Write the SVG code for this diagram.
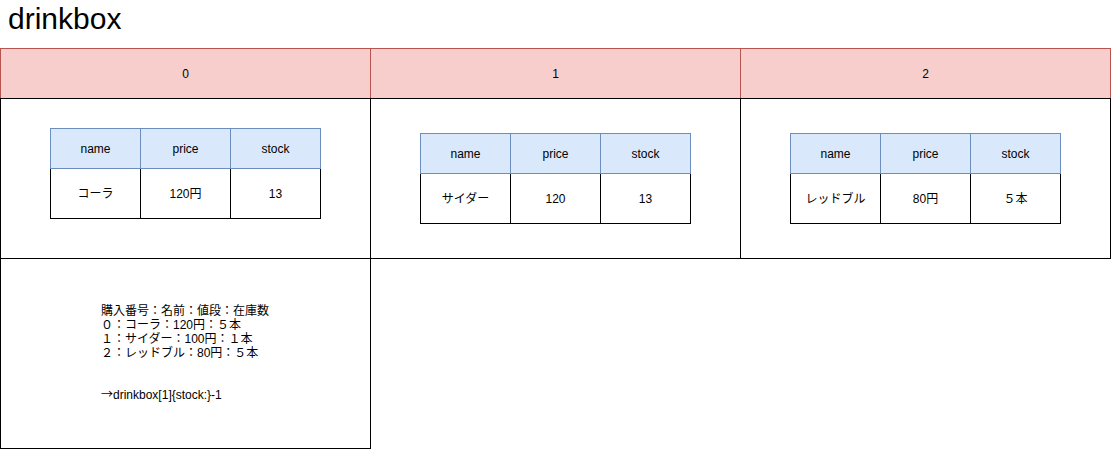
<svg xmlns="http://www.w3.org/2000/svg" width="1111" height="449" viewBox="0 0 1111 449">
<style>
text{font-family:"Liberation Sans","Noto Sans CJK JP",sans-serif;font-size:12px;fill:#000}
.c{text-anchor:middle;dominant-baseline:central}
.hd{fill:#f8cecc;stroke:#b85450;stroke-width:1}
.bx{fill:#fff;stroke:#000;stroke-width:1}
.th{fill:#dae8fc;stroke:#6c8ebf;stroke-width:1}
.td{fill:#fff;stroke:#000;stroke-width:1}
</style>
<rect width="1111" height="449" fill="#fff"/>
<text id="title" x="8" y="29" style="font-size:30px">drinkbox</text>
<g id="col0">
<rect class="hd" x="0.5" y="48.5" width="370" height="50"/>
<text class="c" x="185.5" y="73.5">0</text>
<rect class="bx" x="0.5" y="98.5" width="370" height="160"/>
</g>
<g id="col1">
<rect class="hd" x="370.5" y="48.5" width="370" height="50"/>
<text class="c" x="555.5" y="73.5">1</text>
<rect class="bx" x="370.5" y="98.5" width="370" height="160"/>
</g>
<g id="col2">
<rect class="hd" x="740.5" y="48.5" width="370" height="50"/>
<text class="c" x="925.5" y="73.5">2</text>
<rect class="bx" x="740.5" y="98.5" width="370" height="160"/>
</g>
<g id="table0">
<rect class="td" x="50.5" y="168.5" width="90" height="50"/>
<rect class="td" x="140.5" y="168.5" width="90" height="50"/>
<rect class="td" x="230.5" y="168.5" width="90" height="50"/>
<rect class="th" x="50.5" y="128.5" width="90" height="40"/>
<rect class="th" x="140.5" y="128.5" width="90" height="40"/>
<rect class="th" x="230.5" y="128.5" width="90" height="40"/>
<text class="c" x="95.5" y="148.5">name</text>
<text class="c" x="185.5" y="148.5">price</text>
<text class="c" x="275.5" y="148.5">stock</text>
<text class="c" x="95.5" y="193.5">コーラ</text>
<text class="c" x="185.5" y="193.5">120円</text>
<text class="c" x="275.5" y="193.5">13</text>
</g>
<g id="table1">
<rect class="td" x="420.5" y="173.5" width="90" height="50"/>
<rect class="td" x="510.5" y="173.5" width="90" height="50"/>
<rect class="td" x="600.5" y="173.5" width="90" height="50"/>
<rect class="th" x="420.5" y="133.5" width="90" height="40"/>
<rect class="th" x="510.5" y="133.5" width="90" height="40"/>
<rect class="th" x="600.5" y="133.5" width="90" height="40"/>
<text class="c" x="465.5" y="153.5">name</text>
<text class="c" x="555.5" y="153.5">price</text>
<text class="c" x="645.5" y="153.5">stock</text>
<text class="c" x="465.5" y="198.5">サイダー</text>
<text class="c" x="555.5" y="198.5">120</text>
<text class="c" x="645.5" y="198.5">13</text>
</g>
<g id="table2">
<rect class="td" x="790.5" y="173.5" width="90" height="50"/>
<rect class="td" x="880.5" y="173.5" width="90" height="50"/>
<rect class="td" x="970.5" y="173.5" width="90" height="50"/>
<rect class="th" x="790.5" y="133.5" width="90" height="40"/>
<rect class="th" x="880.5" y="133.5" width="90" height="40"/>
<rect class="th" x="970.5" y="133.5" width="90" height="40"/>
<text class="c" x="835.5" y="153.5">name</text>
<text class="c" x="925.5" y="153.5">price</text>
<text class="c" x="1015.5" y="153.5">stock</text>
<text class="c" x="835.5" y="198.5">レッドブル</text>
<text class="c" x="925.5" y="198.5">80円</text>
<text class="c" x="1015.5" y="198.5">５本</text>
</g>
<g id="note">
<rect class="bx" x="0.5" y="258.5" width="370" height="190"/>
<text x="101" y="315">購入番号：名前：値段：在庫数</text>
<text x="101" y="329">０：コーラ：120円：５本</text>
<text x="101" y="343">１：サイダー：100円：１本</text>
<text x="101" y="357">２：レッドブル：80円：５本</text>
<text x="101" y="399"><tspan style="font-family:'Noto Sans CJK JP',sans-serif">→</tspan>drinkbox[1]{stock:}-1</text>
</g>
<g id="connectors"></g>
</svg>
